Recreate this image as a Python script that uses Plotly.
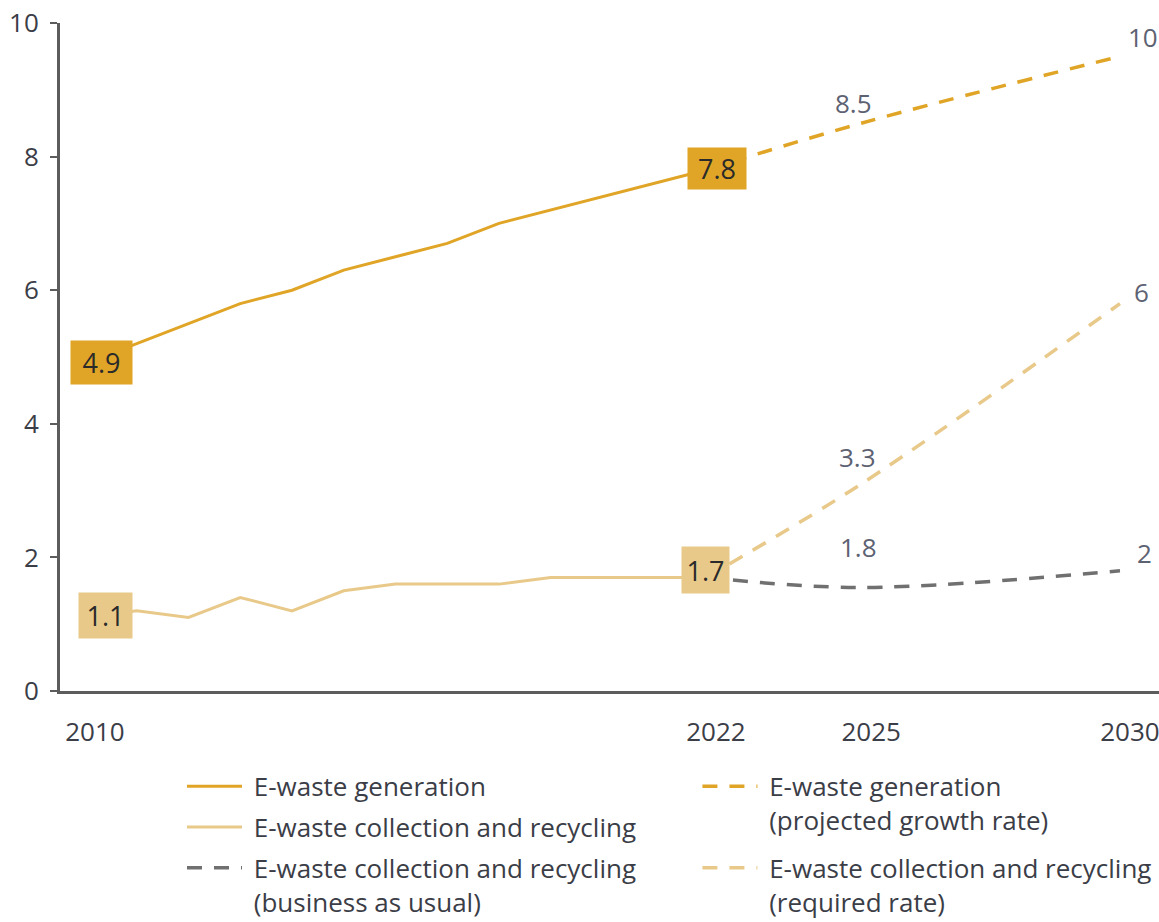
import plotly.graph_objects as go

# ---- data (kg per capita) ----
hist_years = [2010, 2011, 2012, 2013, 2014, 2015, 2016, 2017, 2018, 2019, 2020, 2021, 2022]
generation = [4.9, 5.2, 5.5, 5.8, 6.0, 6.3, 6.5, 6.7, 7.0, 7.2, 7.4, 7.6, 7.8]
recycling = [1.1, 1.2, 1.1, 1.4, 1.2, 1.5, 1.6, 1.6, 1.6, 1.7, 1.7, 1.7, 1.7]

proj_years = [2022, 2025, 2030]
generation_proj = [7.8, 8.5, 9.5]
recycling_required = [1.7, 3.1, 5.8]
recycling_bau = [1.7, 1.55, 1.8]

x_ticks = [2010, 2022, 2025, 2030]
y_ticks = [0, 2, 4, 6, 8, 10]

# value labels shown on the chart
box_labels = [  # (x, y, text, colour, dx, dy, w, h)
    (2010, 4.9, "4.9", "gen", 17, 1, 61, 43),
    (2022, 7.8, "7.8", "gen", 11, 1, 58, 41),
    (2010, 1.1, "1.1", "rec", 21, 2, 53, 45),
    (2022, 1.7, "1.7", "rec", 0, 7, 47, 46),
]
value_labels = [  # (x, y, text, dx, dy)
    (2025, 8.5, "8.5", -8, 20),
    (2030, 9.5, "10", 23, 19),
    (2025, 3.1, "3.3", -4, 27),
    (2030, 5.8, "6", 22, 12),
    (2025, 1.55, "1.8", -3, 40),
    (2030, 1.8, "2", 25, 18),
]

GEN = "#E0A526"
REC = "#E8C98A"
BAU = "#707070"
AXIS = "#5c5c5c"
TEXT = "#3b3d47"
LABEL = "#5d6272"
FONT = "Open Sans"
SP = "\u00a0"

fig = go.Figure()

fig.add_trace(go.Scatter(x=hist_years, y=generation, mode="lines",
                         name=SP + "E-waste generation",
                         line=dict(color=GEN, width=3), legend="legend", legendgroup="g1"))
fig.add_trace(go.Scatter(x=hist_years, y=recycling, mode="lines",
                         name=SP + "E-waste collection and recycling",
                         line=dict(color=REC, width=3), legend="legend", legendgroup="g2"))
fig.add_trace(go.Scatter(x=proj_years, y=recycling_bau, mode="lines",
                         name=SP + "E-waste collection and recycling<br>" + SP + "(business as usual)",
                         line=dict(color=BAU, width=3.5, dash="15px,12px", shape="spline"),
                         legend="legend", legendgroup="g3"))
fig.add_trace(go.Scatter(x=proj_years, y=generation_proj, mode="lines",
                         name=SP + "E-waste generation<br>" + SP + "(projected growth rate)",
                         line=dict(color=GEN, width=3.5, dash="15px,12px", shape="spline"),
                         legend="legend2", legendgroup="g4"))
fig.add_trace(go.Scatter(x=proj_years, y=recycling_required, mode="lines",
                         name=SP + "E-waste collection and recycling<br>" + SP + "(required rate)",
                         line=dict(color=REC, width=3.5, dash="15px,12px", shape="spline"),
                         legend="legend2", legendgroup="g5"))

for x, y, t, c, dx, dy, w, h in box_labels:
    fig.add_annotation(x=x, y=y, text=t, showarrow=False, xshift=dx, yshift=dy,
                       width=w, height=h, borderpad=0,
                       bgcolor=GEN if c == "gen" else REC,
                       font=dict(family=FONT, size=27, color="#2a2a2a"))

for x, y, t, dx, dy in value_labels:
    fig.add_annotation(x=x, y=y, text=t, showarrow=False, xshift=dx, yshift=dy,
                       font=dict(family=FONT, size=26, color=LABEL))

legend_common = dict(orientation="v", xanchor="left", yanchor="top", valign="top",
                     bgcolor="rgba(0,0,0,0)", itemwidth=55,
                     font=dict(family=FONT, size=26, color=TEXT))

fig.update_layout(
    width=1159, height=922,
    margin=dict(l=60, r=0, t=23, b=231, autoexpand=False),
    plot_bgcolor="white", paper_bgcolor="white",
    font=dict(family=FONT, color=TEXT),
    legend=dict(x=0.1110, y=-0.1075, tracegroupgap=4, **legend_common),
    legend2=dict(x=0.5800, y=-0.1075, tracegroupgap=11, **legend_common),
    xaxis=dict(range=[2009.517, 2030.754], tickvals=x_ticks, ticktext=[str(v) for v in x_ticks],
               showgrid=False, zeroline=False, showline=True, linecolor=AXIS, linewidth=3,
               ticks="", ticklabelshift=10, ticklabelstandoff=16, ticklabeloverflow="allow",
               tickfont=dict(family=FONT, size=26, color=TEXT)),
    yaxis=dict(range=[0, 10], tickvals=y_ticks, showgrid=False, zeroline=False,
               showline=True, linecolor=AXIS, linewidth=3,
               ticks="outside", ticklen=7, tickwidth=2, tickcolor=AXIS, ticklabelstandoff=6,
               tickfont=dict(family=FONT, size=26, color=TEXT)),
)

fig.write_html("out.html")
